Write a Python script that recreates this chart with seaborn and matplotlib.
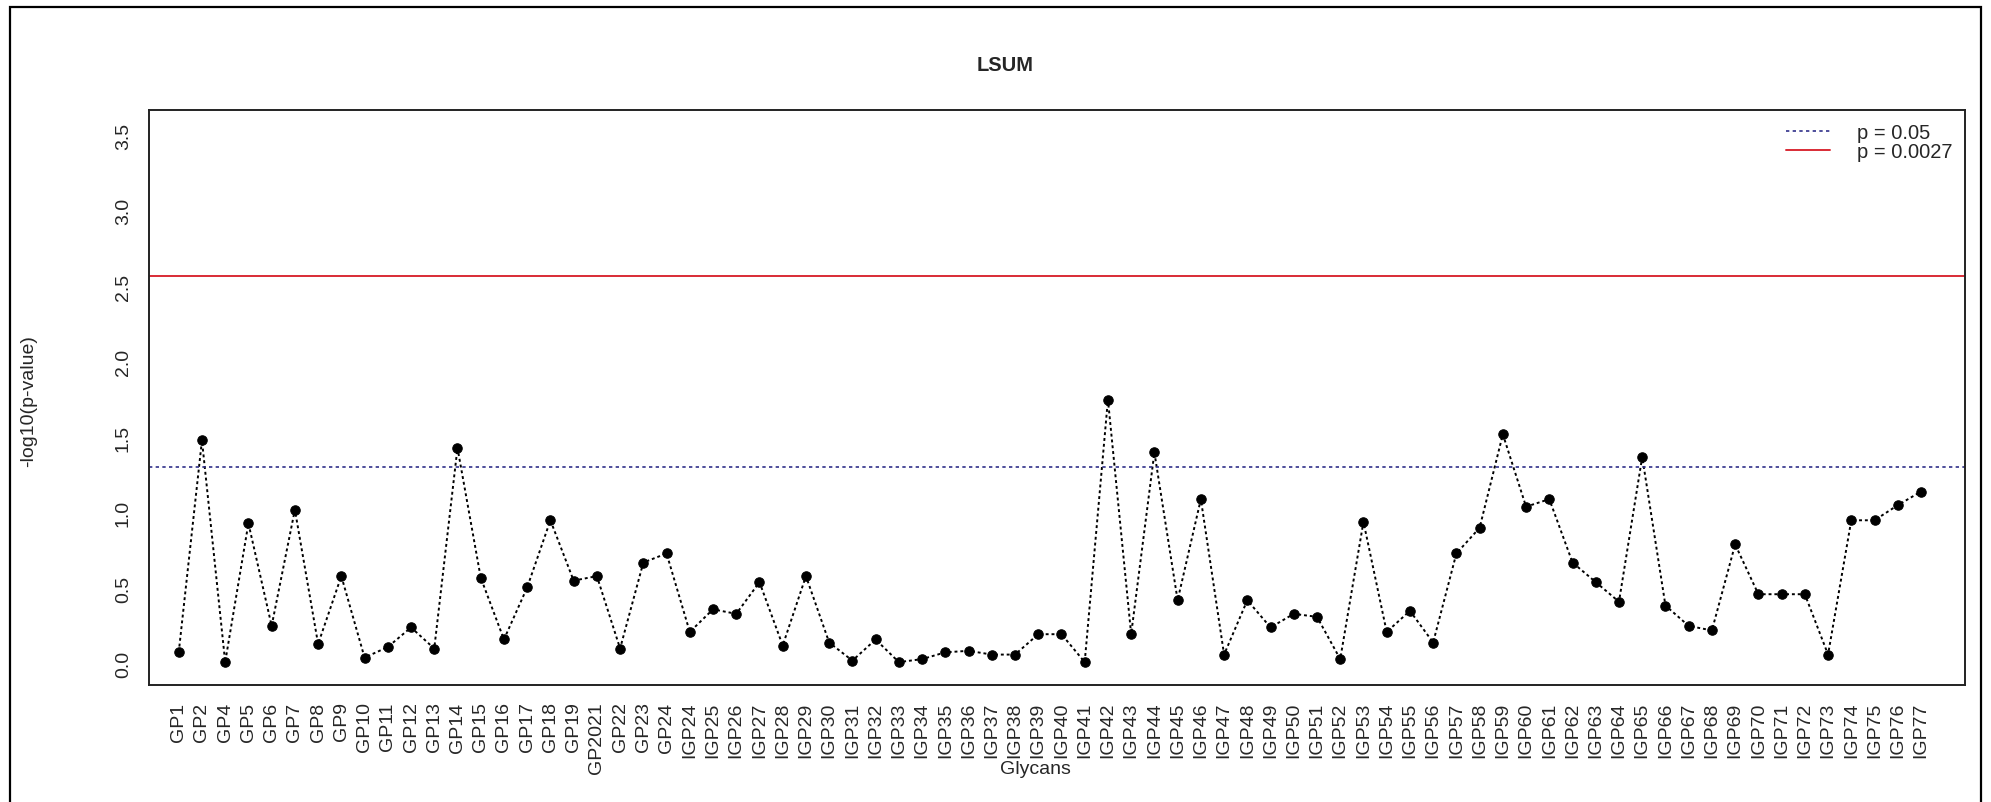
import numpy as np
import pandas as pd
import matplotlib
matplotlib.use('Agg')
import matplotlib.pyplot as plt
import seaborn as sns
from matplotlib.patches import Rectangle
from matplotlib.lines import Line2D

# glycan names, in plotting order
glycans = ['GP1', 'GP2', 'GP4', 'GP5', 'GP6', 'GP7', 'GP8', 'GP9', 'GP10', 'GP11',
           'GP12', 'GP13', 'GP14', 'GP15', 'GP16', 'GP17', 'GP18', 'GP19', 'GP2021',
           'GP22', 'GP23', 'GP24',
           'IGP24', 'IGP25', 'IGP26', 'IGP27', 'IGP28', 'IGP29', 'IGP30', 'IGP31',
           'IGP32', 'IGP33', 'IGP34', 'IGP35', 'IGP36', 'IGP37', 'IGP38', 'IGP39',
           'IGP40', 'IGP41', 'IGP42', 'IGP43', 'IGP44', 'IGP45', 'IGP46', 'IGP47',
           'IGP48', 'IGP49', 'IGP50', 'IGP51', 'IGP52', 'IGP53', 'IGP54', 'IGP55',
           'IGP56', 'IGP57', 'IGP58', 'IGP59', 'IGP60', 'IGP61', 'IGP62', 'IGP63',
           'IGP64', 'IGP65', 'IGP66', 'IGP67', 'IGP68', 'IGP69', 'IGP70', 'IGP71',
           'IGP72', 'IGP73', 'IGP74', 'IGP75', 'IGP76', 'IGP77']

# -log10(p-value) for each glycan
gp_vals = [0.075, 1.48, 0.01, 0.93, 0.25, 1.02, 0.13, 0.58, 0.04, 0.11,
           0.24, 0.10, 1.43, 0.57, 0.16, 0.505, 0.95, 0.55, 0.58,
           0.10, 0.67, 0.73]
igp_vals = [0.21, 0.36, 0.33, 0.54, 0.12, 0.58, 0.14, 0.02,
            0.16, 0.01, 0.03, 0.075, 0.085, 0.06, 0.06, 0.195,
            0.195, 0.01, 1.75, 0.195, 1.40, 0.42, 1.09, 0.06,
            0.42, 0.24, 0.33, 0.31, 0.03, 0.94, 0.21, 0.35,
            0.14, 0.73, 0.90, 1.52, 1.04, 1.09, 0.67, 0.54,
            0.41, 1.37, 0.385, 0.25, 0.22, 0.79, 0.46, 0.46,
            0.46, 0.06, 0.95, 0.95, 1.05, 1.14]

# significance thresholds
p_thresh = [0.05, 0.0027]
thresh_labels = ['p = 0.05', 'p = 0.0027']

df = pd.DataFrame({'glycan': glycans, 'logp': gp_vals + igp_vals})
df['pos'] = np.arange(len(df))

sns.set_theme(style='white')
plt.rcParams['font.family'] = ['Liberation Sans', 'DejaVu Sans']

fig = plt.figure(figsize=(19.91, 8.03), dpi=100)
ax = fig.add_axes([0.0746, 0.146, 0.9124, 0.716])

sns.lineplot(data=df, x='pos', y='logp', ax=ax, color='black', linestyle=(0, (1.5, 1.5)),
             linewidth=1.4, marker='o', markersize=6.8, markeredgecolor='black',
             markerfacecolor='black', sort=False)

# threshold lines
ax.axhline(-np.log10(p_thresh[0]), color='#30308a', linestyle=(0, (2, 2)), linewidth=1.2)
ax.axhline(-np.log10(p_thresh[1]), color='#d92b35', linestyle='-', linewidth=1.4)

ax.set_xlim(-1.3, len(df) + 0.9)
ax.set_ylim(-0.14, 3.67)
ax.set_xticks(df['pos'])
ax.set_xticklabels(df['glycan'], rotation=90, fontsize=14)
yt = np.arange(0, 3.51, 0.5)
ax.set_yticks(yt)
ax.set_yticklabels([f'{v:.1f}' for v in yt], rotation=90, va='center', fontsize=14)
ax.tick_params(axis='both', direction='out', length=8, width=1.2, color='black', pad=4)
ax.set_xlabel('')
ax.set_ylabel('')
for s in ax.spines.values():
    s.set_color('#222222')
    s.set_linewidth(1.4)

handles = [Line2D([], [], color='#30308a', linestyle=(0, (2, 2)), linewidth=1.2),
           Line2D([], [], color='#d92b35', linestyle='-', linewidth=1.4)]
ax.legend(handles, thresh_labels, loc='upper right', frameon=False, fontsize=14.5,
          handlelength=2.2, handletextpad=1.3, labelspacing=0.0,
          borderaxespad=0.25)

fig.text(0.505, 0.919, 'LSUM', ha='center', va='center', fontsize=14.5, fontweight='bold')
fig.text(0.52, 0.042, 'Glycans', ha='center', va='center', fontsize=14)
fig.text(0.0145, 0.5, '-log10(p-value)', ha='center', va='center', rotation=90, fontsize=14)

# outer frame of the picture
fig.patches.append(Rectangle((0.005, -0.02), 0.99, 1.01, transform=fig.transFigure,
                             fill=False, edgecolor='black', linewidth=1.6))

fig.savefig('out.png', dpi=100)
